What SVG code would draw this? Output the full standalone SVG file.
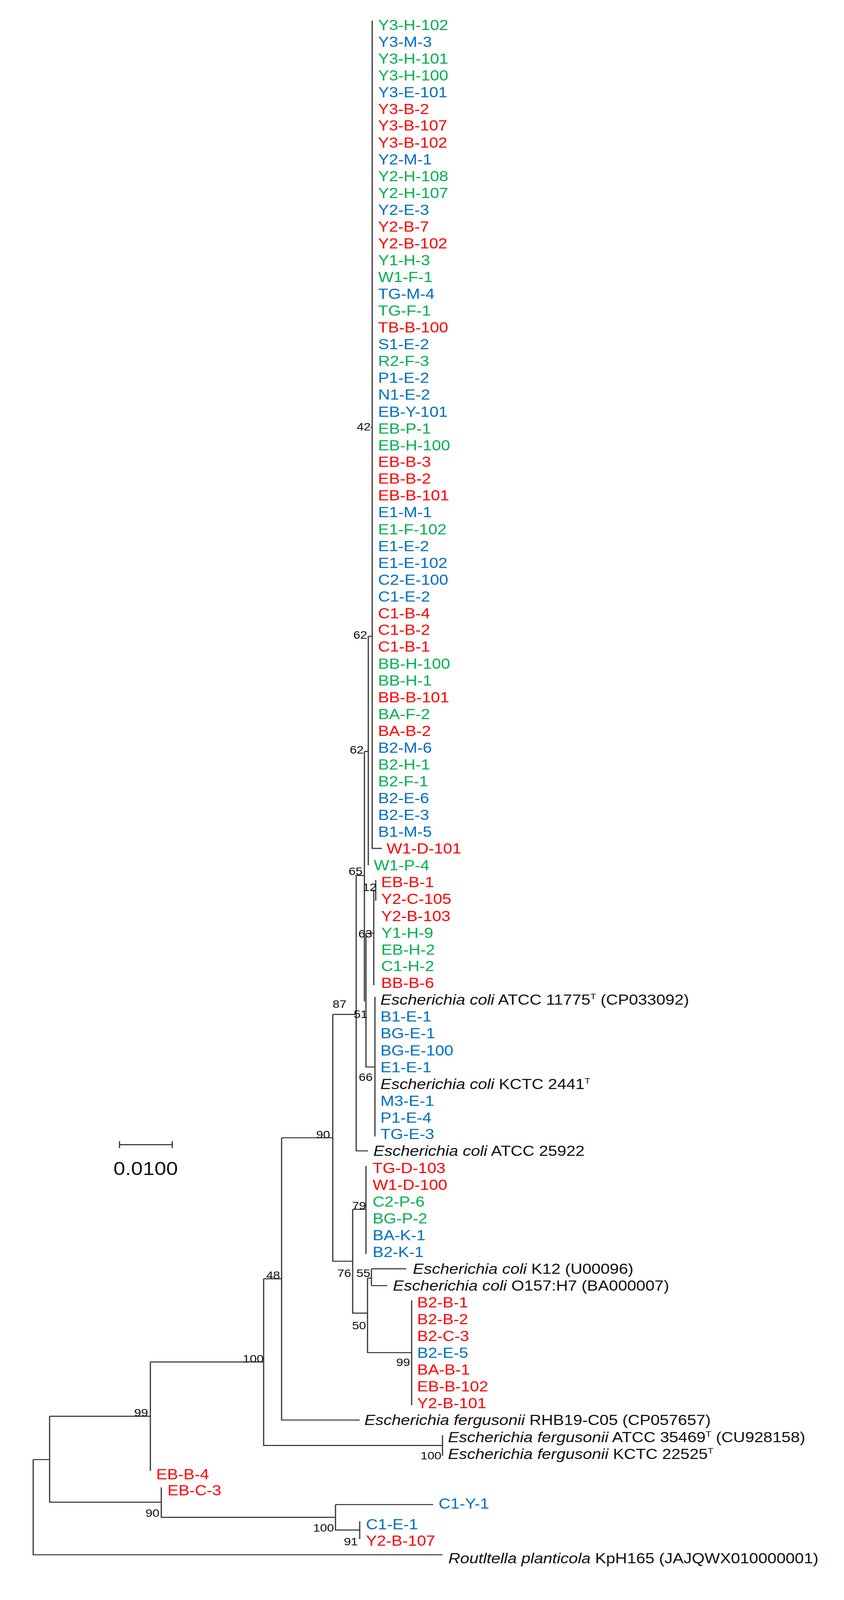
<svg xmlns="http://www.w3.org/2000/svg" width="2161" height="4608" viewBox="0 0 2161 4608">
<style>
text{font-family:"Liberation Sans",Arial,sans-serif;font-size:42px}
.g{fill:#00B050}.b{fill:#0070C0}.r{fill:#FF0000}.k{fill:#111}
.n{font-size:32px;fill:#111;text-anchor:end}
.i{font-style:italic}
.sup{font-size:24px}
#edges path{fill:none;stroke:#333;stroke-width:3}
</style>
<rect width="2161" height="4608" fill="#fff"/>
<g id="tree" transform="scale(1,0.88)">
<g id="edges">
<path d="M953 60 V2468 H978"/>
<path d="M949 1244 H953"/>
<path d="M943 1851 H953"/>
<path d="M943 1851 V2517"/>
<path d="M933 2186 H943"/>
<path d="M933 2186 V2913"/>
<path d="M910 2547 H933"/>
<path d="M912 2547 V3348 H942"/>
<path d="M957 2590 V2866"/>
<path d="M962 2560 V2620"/>
<path d="M953 2590 H962"/>
<path d="M937 2715 H957"/>
<path d="M937 2715 V3104 H960"/>
<path d="M960 2900 V3306"/>
<path d="M852 2951 H912"/>
<path d="M852 2951 V3669 H903"/>
<path d="M721 3310 H852"/>
<path d="M721 3310 V4131 H921"/>
<path d="M903 3518 V3820 H941"/>
<path d="M903 3518 H937"/>
<path d="M937 3392 V3648"/>
<path d="M941 3718 V3935 H1054"/>
<path d="M941 3718 H951"/>
<path d="M951 3691 V3740"/>
<path d="M951 3691 H1040"/>
<path d="M951 3740 H992"/>
<path d="M1054 3783 V4088"/>
<path d="M675 3720 H721"/>
<path d="M675 3720 V4205 H1133"/>
<path d="M1133 4175 V4235"/>
<path d="M385 3962 H675"/>
<path d="M385 3962 V4279"/>
<path d="M127 4120 H385"/>
<path d="M127 4120 V4370 H413"/>
<path d="M413 4327 V4414 H859"/>
<path d="M859 4377 V4451 H921"/>
<path d="M859 4377 H1109"/>
<path d="M921 4426 V4477"/>
<path d="M85 4246 H127"/>
<path d="M85 4246 V4523 H1133"/>
<path d="M306 3330 H441 M306 3320 V3340 M441 3320 V3340"/>
</g>
<g id="leaves">
<text x="968" y="87" class="g">Y3-H-102</text>
<text x="968" y="136" class="b">Y3-M-3</text>
<text x="968" y="185" class="g">Y3-H-101</text>
<text x="968" y="234" class="g">Y3-H-100</text>
<text x="968" y="283" class="b">Y3-E-101</text>
<text x="968" y="332" class="r">Y3-B-2</text>
<text x="968" y="380" class="r">Y3-B-107</text>
<text x="968" y="429" class="r">Y3-B-102</text>
<text x="968" y="478" class="b">Y2-M-1</text>
<text x="968" y="527" class="g">Y2-H-108</text>
<text x="968" y="576" class="g">Y2-H-107</text>
<text x="968" y="625" class="b">Y2-E-3</text>
<text x="968" y="674" class="r">Y2-B-7</text>
<text x="968" y="723" class="r">Y2-B-102</text>
<text x="968" y="772" class="g">Y1-H-3</text>
<text x="968" y="821" class="g">W1-F-1</text>
<text x="968" y="869" class="b">TG-M-4</text>
<text x="968" y="918" class="g">TG-F-1</text>
<text x="968" y="967" class="r">TB-B-100</text>
<text x="968" y="1016" class="b">S1-E-2</text>
<text x="968" y="1065" class="g">R2-F-3</text>
<text x="968" y="1114" class="b">P1-E-2</text>
<text x="968" y="1163" class="b">N1-E-2</text>
<text x="968" y="1212" class="b">EB-Y-101</text>
<text x="968" y="1261" class="g">EB-P-1</text>
<text x="968" y="1310" class="g">EB-H-100</text>
<text x="968" y="1358" class="r">EB-B-3</text>
<text x="968" y="1407" class="r">EB-B-2</text>
<text x="968" y="1456" class="r">EB-B-101</text>
<text x="968" y="1505" class="b">E1-M-1</text>
<text x="968" y="1554" class="g">E1-F-102</text>
<text x="968" y="1603" class="b">E1-E-2</text>
<text x="968" y="1652" class="b">E1-E-102</text>
<text x="968" y="1701" class="b">C2-E-100</text>
<text x="968" y="1750" class="b">C1-E-2</text>
<text x="968" y="1799" class="r">C1-B-4</text>
<text x="968" y="1847" class="r">C1-B-2</text>
<text x="968" y="1896" class="r">C1-B-1</text>
<text x="968" y="1945" class="g">BB-H-100</text>
<text x="968" y="1994" class="g">BB-H-1</text>
<text x="968" y="2043" class="r">BB-B-101</text>
<text x="968" y="2092" class="g">BA-F-2</text>
<text x="968" y="2141" class="r">BA-B-2</text>
<text x="968" y="2190" class="b">B2-M-6</text>
<text x="968" y="2239" class="g">B2-H-1</text>
<text x="968" y="2288" class="g">B2-F-1</text>
<text x="968" y="2336" class="b">B2-E-6</text>
<text x="968" y="2385" class="b">B2-E-3</text>
<text x="968" y="2434" class="b">B1-M-5</text>
<text x="990" y="2483" class="r">W1-D-101</text>
<text x="957" y="2532" class="g">W1-P-4</text>
<text x="976" y="2581" class="r">EB-B-1</text>
<text x="976" y="2630" class="r">Y2-C-105</text>
<text x="976" y="2679" class="r">Y2-B-103</text>
<text x="976" y="2728" class="g">Y1-H-9</text>
<text x="976" y="2777" class="g">EB-H-2</text>
<text x="976" y="2825" class="g">C1-H-2</text>
<text x="976" y="2874" class="r">BB-B-6</text>
<text x="974" y="2923" class="k"><tspan class="i">Escherichia coli</tspan> ATCC 11775<tspan class="sup" dy="-16">T</tspan><tspan dy="16"> (CP033092)</tspan></text>
<text x="974" y="2972" class="b">B1-E-1</text>
<text x="974" y="3021" class="b">BG-E-1</text>
<text x="974" y="3070" class="b">BG-E-100</text>
<text x="974" y="3119" class="b">E1-E-1</text>
<text x="974" y="3168" class="k"><tspan class="i">Escherichia coli</tspan> KCTC 2441<tspan class="sup" dy="-16">T</tspan></text>
<text x="974" y="3217" class="b">M3-E-1</text>
<text x="974" y="3266" class="b">P1-E-4</text>
<text x="974" y="3314" class="b">TG-E-3</text>
<text x="956" y="3363" class="k"><tspan class="i">Escherichia coli</tspan> ATCC 25922</text>
<text x="954" y="3412" class="r">TG-D-103</text>
<text x="954" y="3461" class="r">W1-D-100</text>
<text x="954" y="3510" class="g">C2-P-6</text>
<text x="954" y="3559" class="g">BG-P-2</text>
<text x="954" y="3608" class="b">BA-K-1</text>
<text x="954" y="3657" class="b">B2-K-1</text>
<text x="1057" y="3706" class="k"><tspan class="i">Escherichia coli</tspan> K12 (U00096)</text>
<text x="1006" y="3754" class="k"><tspan class="i">Escherichia coli</tspan> O157:H7 (BA000007)</text>
<text x="1068" y="3803" class="r">B2-B-1</text>
<text x="1068" y="3852" class="r">B2-B-2</text>
<text x="1068" y="3901" class="r">B2-C-3</text>
<text x="1068" y="3950" class="b">B2-E-5</text>
<text x="1068" y="3999" class="r">BA-B-1</text>
<text x="1068" y="4048" class="r">EB-B-102</text>
<text x="1068" y="4097" class="r">Y2-B-101</text>
<text x="933" y="4146" class="k"><tspan class="i">Escherichia fergusonii</tspan> RHB19-C05 (CP057657)</text>
<text x="1147" y="4195" class="k"><tspan class="i">Escherichia fergusonii</tspan> ATCC 35469<tspan class="sup" dy="-16">T</tspan><tspan dy="16"> (CU928158)</tspan></text>
<text x="1147" y="4244" class="k"><tspan class="i">Escherichia fergusonii</tspan> KCTC 22525<tspan class="sup" dy="-16">T</tspan></text>
<text x="400" y="4303" class="r">EB-B-4</text>
<text x="429" y="4350" class="r">EB-C-3</text>
<text x="1123" y="4389" class="b">C1-Y-1</text>
<text x="937" y="4449" class="b">C1-E-1</text>
<text x="937" y="4497" class="r">Y2-B-107</text>
<text x="1148" y="4548" class="k"><tspan class="i">Routltella planticola</tspan> KpH165 (JAJQWX010000001)</text>
</g>
<g id="support">
<text class="n" x="949" y="1252">42</text>
<text class="n" x="940" y="1858">62</text>
<text class="n" x="931" y="2192">62</text>
<text class="n" x="928" y="2545">65</text>
<text class="n" x="964" y="2592">12</text>
<text class="n" x="953" y="2727">63</text>
<text class="n" x="941" y="2961">51</text>
<text class="n" x="887" y="2932">87</text>
<text class="n" x="954" y="3144">66</text>
<text class="n" x="845" y="3311">90</text>
<text class="n" x="937" y="3518">79</text>
<text class="n" x="899" y="3715">76</text>
<text class="n" x="948" y="3715">55</text>
<text class="n" x="937" y="3867">50</text>
<text class="n" x="1050" y="3974">99</text>
<text class="n" x="717" y="3720">48</text>
<text class="n" x="1130" y="4246">100</text>
<text class="n" x="675" y="3964">100</text>
<text class="n" x="379" y="4121">99</text>
<text class="n" x="408" y="4413">90</text>
<text class="n" x="855" y="4456">100</text>
<text class="n" x="916" y="4495">91</text>
</g>
<g id="scale">
<text x="373" y="3418" style="font-size:54px;text-anchor:middle" class="k">0.0100</text>
</g>
</g>
</svg>
